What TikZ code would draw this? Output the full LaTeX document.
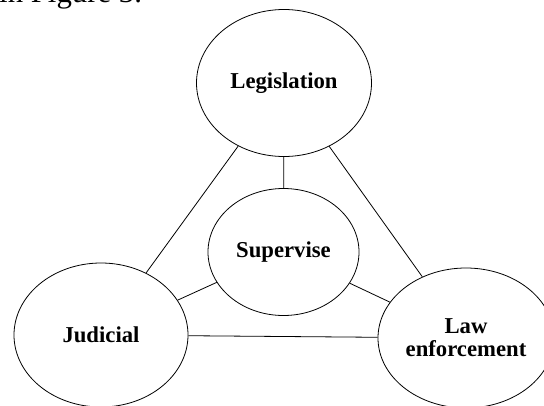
\documentclass[tikz,border=0pt]{standalone}
\usepackage{fontspec}
\setmainfont{Liberation Serif}
\usetikzlibrary{shapes.geometric}
\begin{document}
\begin{tikzpicture}[x=1pt,y=-1pt,
  oval/.style={draw=black,line width=0.8pt,ellipse,inner sep=0pt,align=center,
    font=\fontsize{22.7}{23}\selectfont\bfseries},
  link/.style={draw=black,line width=0.8pt}]
\clip (0,0) rectangle (544,405);
\useasboundingbox (0,0) rectangle (544,405);
\node[anchor=base west,inner sep=0pt,font=\fontsize{30.8}{32}\selectfont] (cap) at (-1,2) {in Figure 3.};
\node[oval,minimum width=175pt,minimum height=147pt] (leg) at (284,83) {Legislation};
\node[oval,minimum width=151pt,minimum height=127pt] (sup) at (283.5,252) {Supervise};
\node[oval,minimum width=174pt,minimum height=144pt] (jud) at (101,335) {Judicial};
\node[oval,minimum width=176pt,minimum height=140pt] (law) at (466,338) {Law\\enforcement};
\draw[link] (leg) -- (sup);
\draw[link] (leg) -- (jud);
\draw[link] (leg) -- (law);
\draw[link] (sup) -- (jud);
\draw[link] (sup) -- (law);
\draw[link] (jud) -- (law);
\end{tikzpicture}
\end{document}
